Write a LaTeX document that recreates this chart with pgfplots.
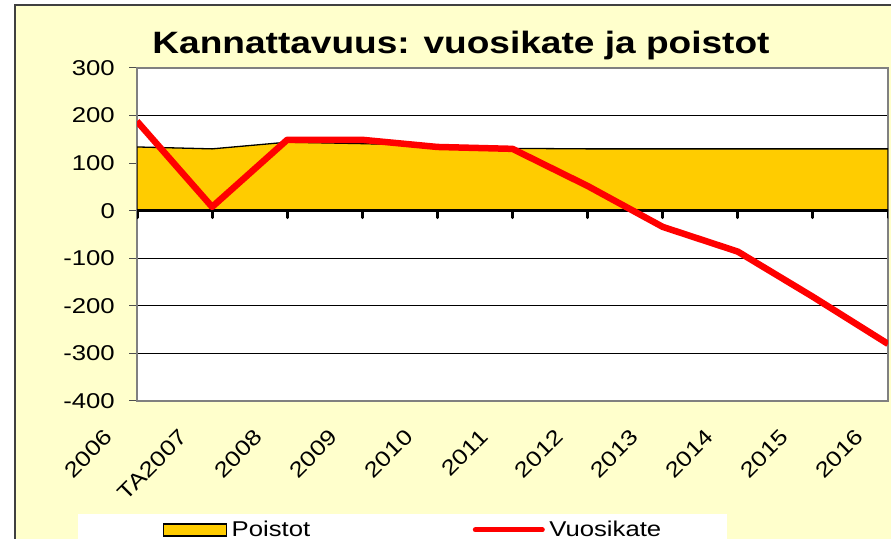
\documentclass[border=0pt]{standalone}
\usepackage{pgfplots}
\pgfplotsset{compat=1.18}
\usepackage{fontspec}
\setmainfont{Liberation Sans}[FakeStretch=1.2]
\definecolor{bgy}{RGB}{255,255,204}
\definecolor{gold}{RGB}{255,204,0}
\definecolor{frame}{RGB}{128,128,128}
\pgfplotstableread{
x poistot vuosikate
0 134 188
1 130 8
2 144 149
3 141 149
4 137 134
5 131 130
6 130 52
7 130 -34
8 130 -86
9 130 -181
10 130 -280
}\datatable
\begin{document}
\begin{tikzpicture}[x=1bp,y=1bp]
\useasboundingbox (0,0) rectangle (891,539);
\begin{scope}
\clip (0,0) rectangle (891,539);
\fill[white] (0,0) rectangle (891,539);
\filldraw[fill=bgy, draw=black!75, line width=1.5bp] (15,-20) rectangle (910,534);
\fill[white] (78,-20) rectangle (727,25);
\end{scope}
\node[font=\fontsize{31}{36}\selectfont\bfseries] at (461,493) {Kannattavuus: vuosikate ja poistot};
\begin{axis}[
  at={(137bp,138bp)}, anchor=south west,
  scale only axis, width=751bp, height=333bp,
  xmin=0, xmax=10, ymin=-400, ymax=300,
  xtick={0,...,10},
  xticklabels={2006,TA2007,2008,2009,2010,2011,2012,2013,2014,2015,2016},
  ytick={-400,-300,-200,-100,0,100,200,300},
  yticklabels={-400,-300,-200,-100,0,100,200,300},
  ymajorgrids, grid style={black, line width=0.8bp},
  axis line style={frame, line width=1.5bp},
  axis background/.style={fill=white},
  tick align=outside, xtick pos=bottom, ytick pos=left,
  x tick style={draw=none},
  y tick style={frame!60!black, line width=1bp},
  major tick length=8bp,
  tick label style={font=\fontsize{21.5}{24}\selectfont},
  x tick label style={xshift=-26bp, yshift=-22bp, rotate=45, anchor=east},
  y tick label style={anchor=east, inner xsep=0pt, xshift=-14bp},
  legend columns=2, legend cell align=left,
  legend style={draw=none, fill=none, at={(0.034,-0.387)}, anchor=west,
    inner sep=0pt, font=\fontsize{21.5}{24}\selectfont,
    nodes={inner xsep=4.5bp},
    /tikz/every even column/.append style={column sep=158bp}},
]
\addplot[fill=gold, draw=black, line width=1.3bp,
  legend image code/.code={\draw[fill=gold,draw=black,line width=1.5bp] (0bp,-6bp) rectangle (63bp,6bp);}]
  table[x=x,y=poistot] {\datatable} \closedcycle;
\addlegendentry{Poistot}
\draw[black, line width=3.5bp] (axis cs:0,0) -- (axis cs:10,0);
\pgfplotsinvokeforeach{0,...,10}{
  \draw[black, line width=3bp, line cap=round] (axis cs:#1,0) -- ([yshift=-7bp]axis cs:#1,0);
}
\addplot[red, line width=6.5bp, line join=round,
  legend image code/.code={\draw[red,line width=5bp,line cap=round] (2bp,0) -- (69bp,0);}]
  table[x=x,y=vuosikate] {\datatable};
\addlegendentry{Vuosikate}
\end{axis}
\end{tikzpicture}
\end{document}
